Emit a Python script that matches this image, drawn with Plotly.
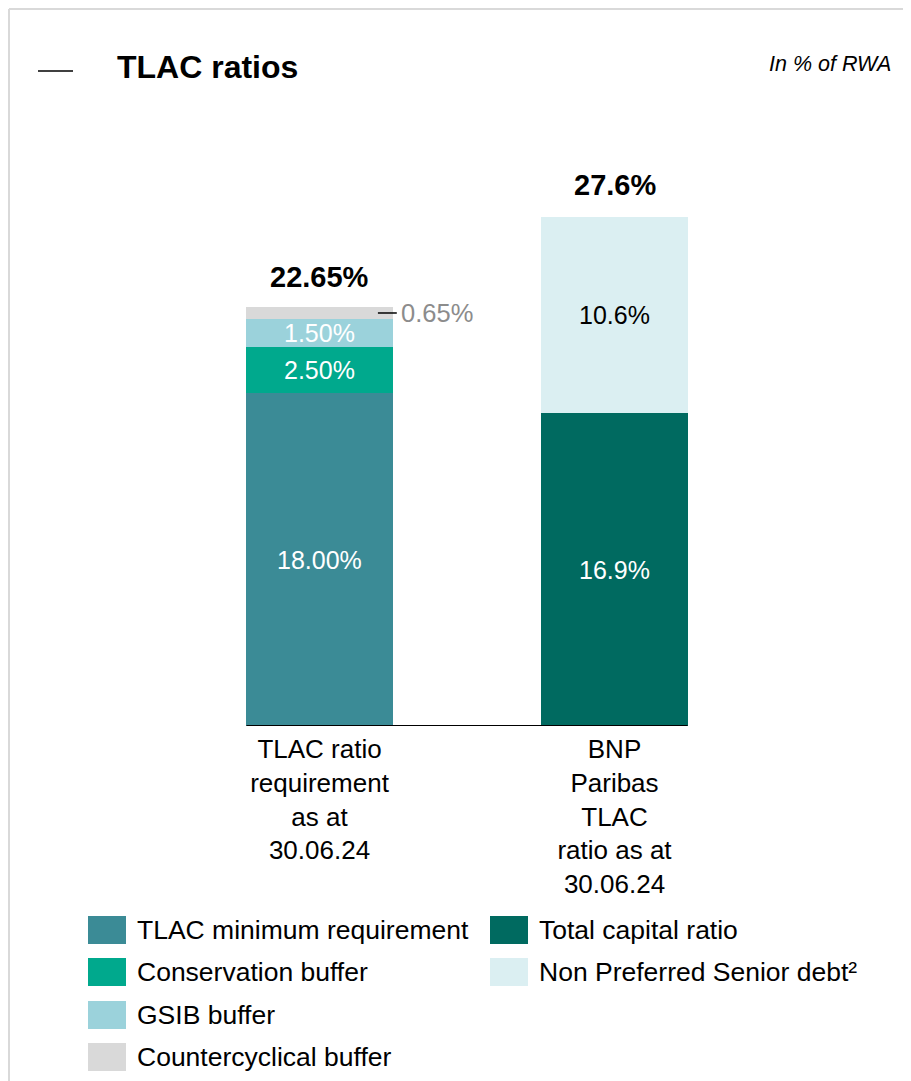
import plotly.graph_objects as go

# ---------------- data ----------------
categories = [
    "TLAC ratio<br>requirement<br>as at<br>30.06.24",
    "BNP<br>Paribas<br>TLAC<br>ratio as at<br>30.06.24",
]
series_names = [
    "TLAC minimum requirement",
    "Conservation buffer",
    "GSIB buffer",
    "Countercyclical buffer",
    "Total capital ratio",
    "Non Preferred Senior debt²",
]
tlac_min = [18.00, None]
conservation = [2.50, None]
gsib = [1.50, None]
countercyclical = [0.65, None]
total_capital = [None, 16.9]
nps_debt = [None, 10.6]
series_values = [tlac_min, conservation, gsib, countercyclical, total_capital, nps_debt]
series_labels = [
    ["18.00%", None],
    ["2.50%", None],
    ["1.50%", None],
    ["0.65%", None],
    [None, "16.9%"],
    [None, "10.6%"],
]
totals = [22.65, 27.6]
total_labels = ["22.65%", "27.6%"]

# ---------------- styles ----------------
colors = ["#3B8B96", "#00A98D", "#9BD2DB", "#D9D9D9", "#006A60", "#DBEFF2"]
label_colors = ["white", "white", "white", "#8C8C8C", "white", "black"]
FONT = "Liberation Sans, Arial, sans-serif"

# figure sits inside the page's 8px body margin
OFF = 8
W, H = 911 - OFF, 1081 - OFF
L, T = 164, 163
PW, PH = 590, 555
R, B = W - L - PW, H - T - PH


def px_x(x):
    """reference-page x pixel -> paper coordinate"""
    return (x - OFF - L) / PW


def px_y(y):
    """reference-page y pixel -> paper coordinate"""
    return (T + PH - (y - OFF)) / PH


fig = go.Figure()
for name, vals, col in zip(series_names, series_values, colors):
    fig.add_trace(go.Bar(
        x=categories, y=vals, name=name, marker=dict(color=col, line=dict(width=0)),
        showlegend=False, hoverinfo="skip",
    ))

annotations = []
shapes = []

# segment labels
for si, (vals, labs) in enumerate(zip(series_values, series_labels)):
    for ci, (v, lab) in enumerate(zip(vals, labs)):
        if v is None or lab is None:
            continue
        base = sum((series_values[k][ci] or 0) for k in range(si))
        mid = base + v / 2
        if series_names[si] == "Countercyclical buffer":
            shapes.append(dict(type="line", xref="x", yref="y",
                               x0=ci + 0.198, x1=ci + 0.262, y0=mid, y1=mid,
                               line=dict(color="black", width=1.5)))
            annotations.append(dict(x=ci + 0.27, y=mid, xref="x", yref="y", text=lab,
                                    showarrow=False, xanchor="left", yanchor="middle",
                                    font=dict(family=FONT, size=25.5, color=label_colors[si])))
        else:
            annotations.append(dict(x=ci, y=mid, xref="x", yref="y", text=lab,
                                    showarrow=False, xanchor="center", yanchor="middle",
                                    font=dict(family=FONT, size=25, color=label_colors[si])))

# totals
for ci, (tv, tl) in enumerate(zip(totals, total_labels)):
    annotations.append(dict(x=ci, y=tv, xref="x", yref="y", text="<b>" + tl + "</b>",
                            showarrow=False, xanchor="center", yanchor="bottom", yshift=12,
                            font=dict(family=FONT, size=29, color="black")))

# baseline axis line
shapes.append(dict(type="line", xref="x", yref="y", x0=-0.2475, x1=1.2475, y0=0, y1=0,
                   line=dict(color="black", width=2)))

# frame (top and left)
shapes.append(dict(type="line", xref="paper", yref="paper", x0=px_x(9), x1=px_x(920),
                   y0=px_y(9), y1=px_y(9), line=dict(color="#D9D9D9", width=2)))
shapes.append(dict(type="line", xref="paper", yref="paper", x0=px_x(9), x1=px_x(9),
                   y0=px_y(9), y1=px_y(1090), line=dict(color="#D9D9D9", width=2)))

# title
shapes.append(dict(type="line", xref="paper", yref="paper", x0=px_x(38), x1=px_x(73),
                   y0=px_y(71), y1=px_y(71), line=dict(color="black", width=1.5)))
annotations.append(dict(x=px_x(115), y=px_y(67), xref="paper", yref="paper",
                        text="<b>TLAC ratios</b>", showarrow=False, xanchor="left",
                        yanchor="middle", font=dict(family=FONT, size=32, color="black")))
annotations.append(dict(x=px_x(893), y=px_y(64), xref="paper", yref="paper",
                        text="<i>In % of RWA</i>", showarrow=False, xanchor="right",
                        yanchor="middle", font=dict(family=FONT, size=21.5, color="black")))

# custom legend (two columns)
legend_cols = [[0, 1, 2, 3], [4, 5]]
col_x = [88, 490]
row_y = [930, 972, 1015, 1057]
for cx, idxs in zip(col_x, legend_cols):
    for r, si in enumerate(idxs):
        cy = row_y[r]
        shapes.append(dict(type="rect", xref="paper", yref="paper",
                           x0=px_x(cx), x1=px_x(cx + 38), y0=px_y(cy - 14), y1=px_y(cy + 14),
                           fillcolor=colors[si], line=dict(width=0)))
        annotations.append(dict(x=px_x(cx + 47), y=px_y(cy), xref="paper", yref="paper",
                                text=series_names[si], showarrow=False, xanchor="left",
                                yanchor="middle",
                                font=dict(family=FONT, size=26.5, color="black")))

fig.update_layout(
    width=W, height=H,
    margin=dict(l=L, r=R, t=T, b=B, pad=0),
    barmode="stack", bargap=0.505,
    paper_bgcolor="white", plot_bgcolor="white",
    showlegend=False,
    font=dict(family=FONT, color="black"),
    xaxis=dict(showgrid=False, showline=False, zeroline=False, ticks="",
               tickfont=dict(family=FONT, size=26, color="black"),
               ticklabelstandoff=5, fixedrange=True),
    yaxis=dict(range=[0, 30], showgrid=False, showline=False, zeroline=False,
               showticklabels=False, ticks="", fixedrange=True),
    annotations=annotations,
    shapes=shapes,
)

fig.write_html("out.html")
